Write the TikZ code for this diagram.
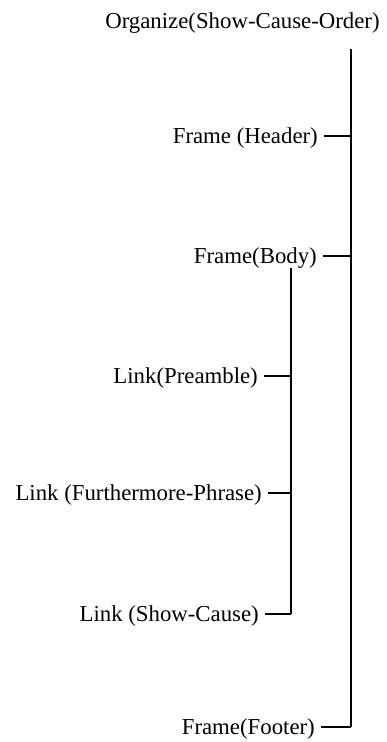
\documentclass[tikz,border=0pt]{standalone}
\usepackage{fontspec}
\setmainfont{Liberation Serif}
\usepackage{tikz}
\usetikzlibrary{positioning}
\colorlet{background}{white}
\colorlet{penColor}{black}
\tikzset{partname/.style={anchor=east,inner xsep=6pt,inner ysep=0pt,
    text height=18pt,text depth=2.8pt,
    font=\fontsize{22.8}{26}\selectfont},
  stem/.style={penColor,line width=1.2pt}}

\begin{document}
\begin{tikzpicture}[x=1pt,y=-1pt]
    \useasboundingbox[fill=background] (0,0) rectangle (387,742);

    \node[partname,anchor=center] (organize) at (242.5,20.5) {Organize(Show-Cause-Order)};
    \node[partname] (header) at (324,136) {Frame (Header)};
    \node[partname] (body) at (323,256) {Frame(Body)};
    \node[partname] (preamble) at (264,376) {Link(Preamble)};
    \node[partname] (further) at (268,493) {Link (Furthermore-Phrase)};
    \node[partname] (showcause) at (265,614) {Link (Show-Cause)};
    \node[partname] (footer) at (321,727) {Frame(Footer)};

    \coordinate (orgTop) at (351,49);
    \coordinate (bodyTop) at (291,268);

    % frames hang on the outer stem
    \draw[stem] (orgTop) -- (footer.east -| orgTop);
    \draw[stem] (header.east) -- (header.east -| orgTop);
    \draw[stem] (body.east) -- (body.east -| orgTop);
    \draw[stem] (footer.east) -- (footer.east -| orgTop);

    % links hang on the body stem
    \draw[stem] (bodyTop) -- (showcause.east -| bodyTop);
    \draw[stem] (preamble.east) -- (preamble.east -| bodyTop);
    \draw[stem] (further.east) -- (further.east -| bodyTop);
    \draw[stem] (showcause.east) -- (showcause.east -| bodyTop);

\end{tikzpicture}
\end{document}
